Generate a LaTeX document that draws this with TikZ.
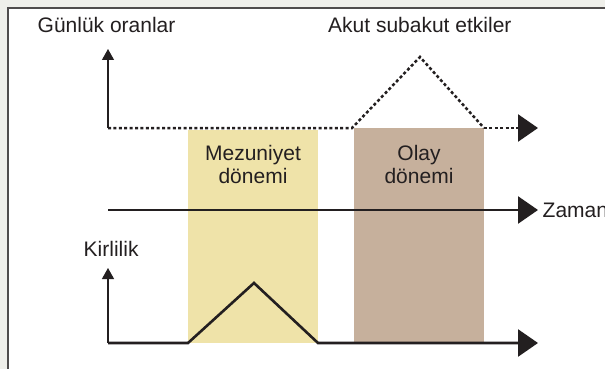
\documentclass[tikz,border=0pt]{standalone}
\usepackage{fontspec}
\setmainfont{Liberation Sans}
\usepackage{tikz}
\usetikzlibrary{arrows.meta}

\definecolor{inkdark}{HTML}{231F20}
\definecolor{pagegrey}{HTML}{EFEFEA}
\definecolor{gradyellow}{HTML}{EFE3A9}
\definecolor{eventbrown}{HTML}{C6B09C}

\begin{document}
\begin{tikzpicture}[x=1pt, y=-1pt, every node/.style={inner sep=0pt, text=inkdark, font=\fontsize{21}{23}\selectfont},
    thinaxis/.style={draw=inkdark, line width=1.2pt, -{Triangle[length=11pt, width=12pt]}},
    bigaxis/.style={draw=inkdark, line width=2.6pt, -{Triangle[length=20pt, width=27pt]}},
    dotline/.style={draw=inkdark, line width=2.5pt, dash pattern=on 3pt off 2.4pt}]

    \useasboundingbox (0,0) rectangle (605,369);

    % page and frame
    \fill[pagegrey] (0,0) rectangle (605,369);
    \fill[white] (8,8) rectangle (610,375);
    \draw[inkdark!80, line width=1.5pt] (8,375) -- (8,8) -- (610,8);

    % periods
    \fill[gradyellow] (188,130) rectangle (318,343);
    \fill[eventbrown] (354,128) rectangle (484,343);

    \node[align=center] (grad) at (253,164) {Mezuniyet\\dönemi};
    \node[align=center] (event) at (419,164) {Olay\\dönemi};

    % daily rates
    \coordinate (topO) at (108,128);
    \coordinate (topY) at (108,49);
    \coordinate (riseA) at (352,128);
    \coordinate (peakA) at (420,57);
    \coordinate (fallA) at (484,128);
    \coordinate (topEnd) at (538,128);

    \draw[thinaxis] (topO) -- (topY);
    \draw[dotline] (topO) -- (riseA) -- (peakA) -- (fallA);
    \draw[dotline, -{Triangle[length=20pt, width=27pt]}] (fallA) -- (topEnd);

    \node[anchor=base west] (daily) at (37.5,33) {Günlük oranlar};
    \node[anchor=base west] (acute) at (328,33) {Akut subakut etkiler};

    % time
    \coordinate (timeO) at (108,210);
    \coordinate (timeEnd) at (538,210);
    \draw[bigaxis] (timeO) -- (timeEnd);
    \node[anchor=base west] (time) at (542.5,217.5) {Zaman};

    % pollution
    \coordinate (botO) at (108,343);
    \coordinate (botY) at (108,268);
    \coordinate (riseB) at (188,343);
    \coordinate (peakB) at (254,283);
    \coordinate (fallB) at (318,343);
    \coordinate (botEnd) at (538,343);

    \draw[thinaxis] (botO) -- (botY);
    \draw[bigaxis, line join=miter] (botO) -- (riseB) -- (peakB) -- (fallB) -- (botEnd);

    \node[anchor=base west] (pollution) at (83.5,256) {Kirlilik};

\end{tikzpicture}
\end{document}
